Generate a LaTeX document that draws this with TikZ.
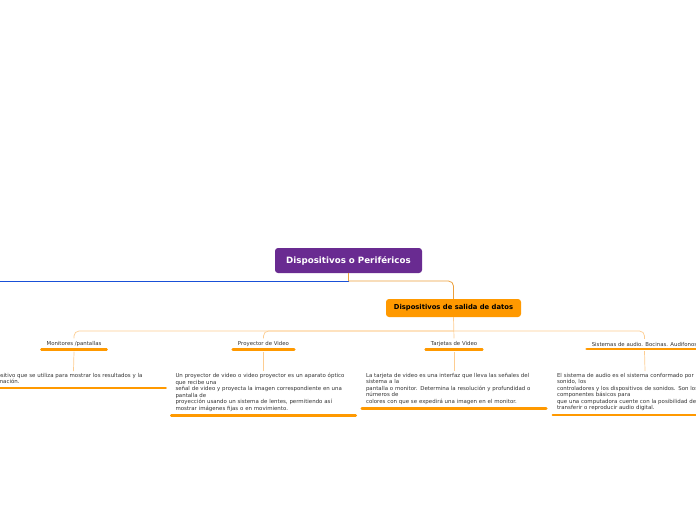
\documentclass[tikz,border=0pt]{standalone}
\usepackage{fontspec}
\setmainfont{DejaVu Sans}
\usetikzlibrary{positioning, calc}
\definecolor{rootpurple}{RGB}{105,43,145}
\definecolor{mainorange}{RGB}{255,153,0}
\definecolor{lineorange}{RGB}{236,160,60}
\definecolor{busorange}{RGB}{253,205,145}
\definecolor{leftblue}{RGB}{25,80,215}
\definecolor{bodygray}{RGB}{50,50,50}

\begin{document}
\begin{tikzpicture}[x=1pt, y=-1pt,
    root/.style={rectangle, fill=rootpurple, text=white, minimum width=147pt, minimum height=25pt, rounded corners=3pt, font=\fontsize{8.7}{10}\selectfont\bfseries},
    branch/.style={rectangle, fill=mainorange, text=black, minimum width=135pt, minimum height=18pt, rounded corners=3pt, font=\fontsize{6.8}{8}\selectfont\bfseries},
    topic/.style={inner xsep=5pt, inner ysep=2.8pt, text=bodygray, font=\fontsize{5.4}{6}\selectfont},
    body/.style={anchor=north, text width=176pt, align=left, inner xsep=4pt, inner ysep=2pt, text=bodygray, font=\fontsize{5.45}{6.5}\selectfont},
    underline/.style={mainorange, line width=2.6pt, line cap=round},
    bus/.style={busorange, line width=0.7pt, rounded corners=5pt},
    link/.style={lineorange, line width=0.8pt, rounded corners=5pt}
]
\useasboundingbox (0,0) rectangle (696,520);
\clip (0,0) rectangle (696,520);

% Root
\node[root] (root) at (348.5,260.5) {Dispositivos o Periféricos};

% Output devices
\node[branch] (salida) at (453.5,308) {Dispositivos de salida de datos};

% Topics
\node[topic] (mon) at (74,344) {Monitores /pantallas};
\node[topic] (proy) at (263.5,344) {Proyector de Video};
\node[topic] (tarj) at (454,344) {Tarjetas de Video};
\node[topic] (sist) at (644.5,344) {Sistemas de audio. Bocinas. Audifonos};

% Descriptions
\node[body] (monB) at (73.5,371) {Dispositivo que se utiliza para mostrar los resultados y la\\información.};
\node[body] (proyB) at (263.5,371) {Un proyector de video o video proyector es un aparato óptico\\que recibe una\\señal de video y proyecta la imagen correspondiente en una\\pantalla de\\proyección usando un sistema de lentes, permitiendo así\\mostrar imágenes fijas o en movimiento.};
\node[body] (tarjB) at (454,371) {La tarjeta de video es una interfaz que lleva las señales del\\sistema a la\\pantalla o monitor. Determina la resolución y profundidad o\\números de\\colores con que se expedirá una imagen en el monitor.};
\node[body] (sistB) at (645,371) {El sistema de audio es el sistema conformado por la tarjeta de\\sonido, los\\controladores y los dispositivos de sonidos. Son los\\componentes básicos para\\que una computadora cuente con la posibilidad de\\transferir o reproducir audio digital.};

% Joints
\coordinate (rootjoin) at (348.5,281);
\coordinate (offleft) at (-10,281);
\coordinate (busjoin) at (453.5,331);

% Connectors: root
\draw[lineorange, line width=0.8pt] (root.south) -- (rootjoin);
\draw[leftblue, line width=0.8pt] (rootjoin) -- (offleft);
\draw[link] (rootjoin) -| (salida.north);

% Connectors: branch to topics
\draw[bus] (salida.south) -- (tarj.north);
\draw[bus] (busjoin) -| (mon.north);
\draw[bus] (busjoin) -| (proy.north);
\draw[bus] (busjoin) -| (sist.north);

% Connectors: topics to descriptions
\foreach \t in {mon, proy, tarj, sist}{
  \draw[bus] ([yshift=-2pt]\t.south) -- (\t B.north);
  \draw[underline] (\t.south west) -- (\t.south east);
  \draw[underline] ([yshift=-2pt]\t B.south west) -- ([yshift=-2pt]\t B.south east);
}

\end{tikzpicture}
\end{document}
